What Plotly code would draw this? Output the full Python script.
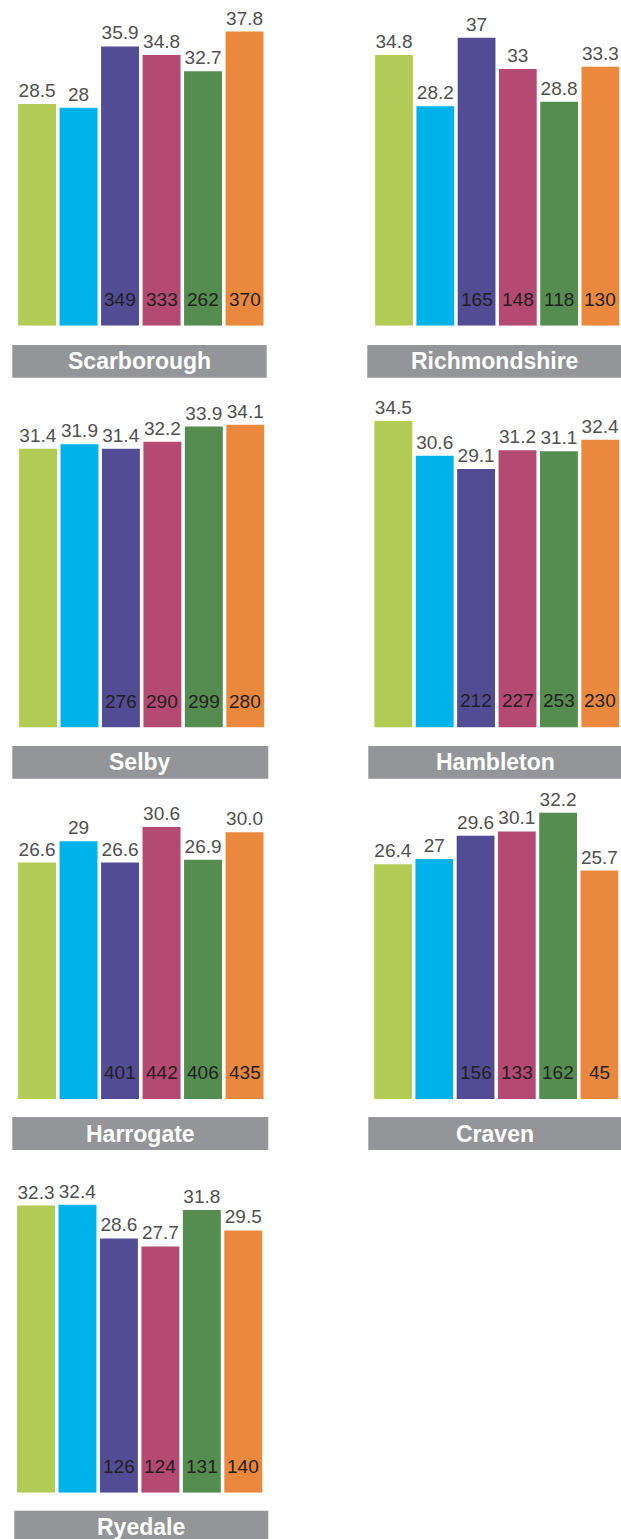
import plotly.graph_objects as go

W, H = 621, 1539

# Six series, one colour each, same order in every district
series_colors = ["#B1CB55", "#00B2EA", "#524C94", "#B44A71", "#548D4F", "#EA893D"]

districts = ["Scarborough", "Richmondshire", "Selby", "Hambleton", "Harrogate", "Craven", "Ryedale"]

# Bar values as printed above each bar
scarborough = ["28.5", "28", "35.9", "34.8", "32.7", "37.8"]
richmondshire = ["34.8", "28.2", "37", "33", "28.8", "33.3"]
selby = ["31.4", "31.9", "31.4", "32.2", "33.9", "34.1"]
hambleton = ["34.5", "30.6", "29.1", "31.2", "31.1", "32.4"]
harrogate = ["26.6", "29", "26.6", "30.6", "26.9", "30.0"]
craven = ["26.4", "27", "29.6", "30.1", "32.2", "25.7"]
ryedale = ["32.3", "32.4", "28.6", "27.7", "31.8", "29.5"]

# Counts printed at the foot of the bars (none for the first two series)
scarborough_n = [None, None, 349, 333, 262, 370]
richmondshire_n = [None, None, 165, 148, 118, 130]
selby_n = [None, None, 276, 290, 299, 280]
hambleton_n = [None, None, 212, 227, 253, 230]
harrogate_n = [None, None, 401, 442, 406, 435]
craven_n = [None, None, 156, 133, 162, 45]
ryedale_n = [None, None, 126, 124, 131, 140]

labels = [scarborough, richmondshire, selby, hambleton, harrogate, craven, ryedale]
counts = [scarborough_n, richmondshire_n, selby_n, hambleton_n, harrogate_n, craven_n, ryedale_n]

# Panel geometry in pixels: x-domain, baseline, px per unit, y max, title box
panels = [
    dict(x=(16.3, 265.3), base=325.7, ppu=7.78, ymax=40, box=(12.3, 266.7, 345.0, 377.7)),
    dict(x=(373.4, 621.0), base=325.7, ppu=7.78, ymax=40, box=(367.3, 622.0, 345.0, 377.7)),
    dict(x=(17.3, 266.0), base=727.6, ppu=8.88, ymax=38, box=(12.3, 268.3, 746.0, 778.7)),
    dict(x=(372.6, 621.0), base=727.4, ppu=8.88, ymax=38, box=(368.3, 622.0, 746.0, 778.7)),
    dict(x=(16.3, 265.3), base=1099.0, ppu=8.89, ymax=35, box=(12.3, 268.3, 1117.0, 1150.0)),
    dict(x=(372.4, 620.0), base=1099.0, ppu=8.89, ymax=35, box=(368.3, 622.0, 1117.0, 1150.0)),
    dict(x=(15.3, 264.0), base=1492.7, ppu=8.89, ymax=35, box=(14.3, 268.3, 1510.7, 1543.4)),
]

VALUE_FONT = "Liberation Sans, Arial, sans-serif"
TITLE_FONT = "Liberation Sans, Arial, sans-serif"


def px_x(p):
    return p / W


def px_y(p):
    return 1 - p / H


fig = go.Figure()
layout = dict(
    width=W, height=H,
    margin=dict(l=0, r=0, t=0, b=0),
    paper_bgcolor="white", plot_bgcolor="rgba(0,0,0,0)",
    showlegend=False, bargap=0.085,
    shapes=[], annotations=[],
)

cats = list(range(6))
for i, (name, lab, cnt, g) in enumerate(zip(districts, labels, counts, panels)):
    k = "" if i == 0 else str(i + 1)
    xa, ya = "x" + k, "y" + k
    vals = [float(s) for s in lab]
    fig.add_trace(go.Bar(
        x=cats, y=vals, xaxis=xa, yaxis=ya,
        marker=dict(color=series_colors, line=dict(width=0)),
        text=lab, textposition="outside", constraintext="none",
        textfont=dict(family=VALUE_FONT, size=19, color="#505050"),
        cliponaxis=False, hoverinfo="skip",
    ))
    top = g["base"] - g["ymax"] * g["ppu"]
    layout["xaxis" + k] = dict(
        domain=[max(0, px_x(g["x"][0])), min(1, px_x(g["x"][1]))],
        range=[-0.5, 5.5], visible=False, anchor=ya, fixedrange=True,
    )
    layout["yaxis" + k] = dict(
        domain=[px_y(g["base"]), px_y(top)],
        range=[0, g["ymax"]], visible=False, anchor=xa, fixedrange=True,
    )
    for c, n in zip(cats, cnt):
        if n is None:
            continue
        layout["annotations"].append(dict(
            x=c, y=0, xref=xa, yref=ya, text=str(n), showarrow=False,
            xanchor="center", yanchor="bottom", yshift=14,
            font=dict(family=VALUE_FONT, size=19, color="#231F20"),
        ))
    bx0, bx1, by0, by1 = g["box"]
    layout["shapes"].append(dict(
        type="rect", xref="paper", yref="paper",
        x0=px_x(bx0), x1=px_x(bx1), y0=px_y(by1), y1=px_y(by0),
        fillcolor="#939598", line=dict(width=0), layer="below",
    ))
    layout["annotations"].append(dict(
        x=px_x((bx0 + bx1) / 2), y=px_y((by0 + by1) / 2), xref="paper", yref="paper",
        text="<b>%s</b>" % name, showarrow=False, xanchor="center", yanchor="middle",
        font=dict(family=TITLE_FONT, size=23, color="white"),
    ))

fig.update_layout(**layout)
fig.write_html("out.html", config={"displayModeBar": False})
